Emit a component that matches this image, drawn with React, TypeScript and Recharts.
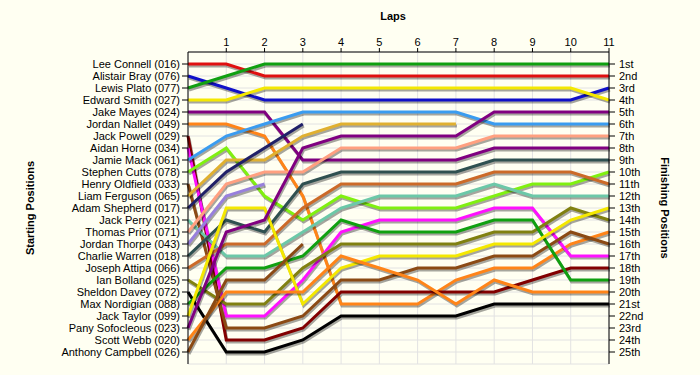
import React from 'react';
import { LineChart, Line, XAxis, YAxis, CartesianGrid } from 'recharts';

// laps 0 (grid) to 11
const LAPS = [0, 1, 2, 3, 4, 5, 6, 7, 8, 9, 10, 11];
const LAP_TICKS = [1, 2, 3, 4, 5, 6, 7, 8, 9, 10, 11];
const POSITION_TICKS = [1, 2, 3, 4, 5, 6, 7, 8, 9, 10, 11, 12, 13, 14, 15, 16, 17, 18, 19, 20, 21, 22, 23, 24, 25];

const STARTERS = [
  'Lee Connell (016)', 'Alistair Bray (076)', 'Lewis Plato (077)', 'Edward Smith (027)', 'Jake Mayes (024)',
  'Jordan Nallet (049)', 'Jack Powell (029)', 'Aidan Horne (034)', 'Jamie Mack (061)', 'Stephen Cutts (078)',
  'Henry Oldfield (033)', 'Liam Ferguson (065)', 'Adam Shepherd (017)', 'Jack Perry (021)', 'Thomas Prior (071)',
  'Jordan Thorpe (043)', 'Charlie Warren (018)', 'Joseph Attipa (066)', 'Ian Bolland (025)', 'Sheldon Davey (072)',
  'Max Nordigian (088)', 'Jack Taylor (099)', 'Pany Sofocleous (023)', 'Scott Webb (020)', 'Anthony Campbell (026)',
];

const FINISH_LABELS = [
  '1st', '2nd', '3rd', '4th', '5th', '6th', '7th', '8th', '9th', '10th', '11th', '12th', '13th',
  '14th', '15th', '16th', '17th', '18th', '19th', '20th', '21st', '22nd', '23rd', '24th', '25th',
];

// position after each lap, null = retired
const leeConnell = [1, 1, 2, 2, 2, 2, 2, 2, 2, 2, 2, 2];
const alistairBray = [2, 3, 4, 4, 4, 4, 4, 4, 4, 4, 4, 3];
const lewisPlato = [3, 2, 1, 1, 1, 1, 1, 1, 1, 1, 1, 1];
const edwardSmith = [4, 4, 3, 3, 3, 3, 3, 3, 3, 3, 3, 4];
const jakeMayes = [5, 5, 5, 9, 9, 9, 9, 9, 8, 8, 8, 8];
const jordanNallet = [6, 6, 7, 12, 21, 21, 21, 19, 18, 18, 16, 15];
const jackPowell = [7, 24, 24, 23, 20, 20, 20, 20, 20, 19, 18, 18];
const aidanHorne = [8, 22, 22, 19, 15, 14, 14, 14, 13, 13, 17, 17];
const jamieMack = [9, 7, 6, 5, 5, 5, 5, 5, 6, 6, 6, 6];
const stephenCutts = [10, 8, 12, 14, 12, 13, 13, 13, 12, 11, 11, 10];
const henryOldfield = [11, 23, 23, 22, 19, 19, 18, 18, 17, 17, 15, 16];
const liamFerguson = [12, 9, 9, 7, 6, 6, 6, 6, null, null, null, null];
const adamShepherd = [13, 10, 8, 6, null, null, null, null, null, null, null, null];
const jackPerry = [14, 17, 17, 15, 13, 12, 12, 12, 11, 12, 12, 12];
const thomasPrior = [15, 11, 10, 10, 8, 8, 8, 8, 7, 7, 7, 7];
const jordanThorpe = [16, 12, 11, null, null, null, null, null, null, null, null, null];
const charlieWarren = [17, 14, 15, 11, 10, 10, 10, 10, 9, 9, 9, 9];
const josephAttipa = [18, 16, 16, 13, 11, 11, 11, 11, 10, 10, 10, 11];
const ianBolland = [19, 21, 21, 18, 16, 16, 16, 16, 15, 15, 13, 14];
const sheldonDavey = [20, 25, 25, 24, 22, 22, 22, 22, 21, 21, 21, 21];
const maxNordigian = [21, 18, 18, 17, 14, 15, 15, 15, 14, 14, 19, 19];
const jackTaylor = [22, 13, 13, 21, 18, 17, 17, 17, 16, 16, 14, 13];
const panySofocleous = [23, 15, 14, 8, 7, 7, 7, 7, 5, 5, 5, 5];
const scottWebb = [24, 20, 20, 20, 17, 18, 19, 21, 19, 20, 20, 20];
const anthonyCampbell = [25, 19, 19, 16, null, null, null, null, null, null, null, null];

const POSITIONS = [
  leeConnell, alistairBray, lewisPlato, edwardSmith, jakeMayes, jordanNallet, jackPowell, aidanHorne,
  jamieMack, stephenCutts, henryOldfield, liamFerguson, adamShepherd, jackPerry, thomasPrior, jordanThorpe,
  charlieWarren, josephAttipa, ianBolland, sheldonDavey, maxNordigian, jackTaylor, panySofocleous, scottWebb,
  anthonyCampbell,
];

const COLORS = [
  '#e01010', '#1010c8', '#10a010', '#f4e800', '#800080', '#ff8418', '#820000', '#ff10ff',
  '#3a9cf0', '#80f010', '#8b4a14', '#e0b030', '#202068', '#6cc8a8', '#ffa080', '#9880dc',
  '#2f5050', '#cc6a28', '#808010', '#000000', '#10a010', '#f4e800', '#800080', '#ff8418',
  '#8b4a14',
];

const chartData = LAPS.map((lap, i) => {
  const row: any = { lap };
  POSITIONS.forEach((p, d) => { row['d' + d] = p[i]; });
  return row;
});

const FONT = 'Arial, "Liberation Sans", sans-serif';
const tickStyle = { fontSize: 11, fill: '#000', fontFamily: FONT };

// right axis: ordinal finishing labels
const FinishTick = (props: any) => {
  const { x, y, payload } = props;
  return (
    <text x={x + 2} y={y} dy={4} textAnchor="start" fontSize={11} fontFamily={FONT} fill="#000">
      {FINISH_LABELS[Number(payload.value) - 1]}
    </text>
  );
};

export default function App() {
  return (
    <div style={{ position: 'absolute', left: 0, top: 0, width: 700, height: 375, background: '#fffff2', fontFamily: FONT }}>
      <style>{`.recharts-line-curve { filter: drop-shadow(1px 2px 0.6px rgba(0,0,0,0.35)); }`}</style>
      <div style={{ position: 'absolute', left: 373, top: 10, width: 40, textAlign: 'center', fontSize: 11, fontWeight: 'bold' }}>Laps</div>
      <div style={{ position: 'absolute', left: 30, top: 208, fontSize: 11, fontWeight: 'bold', whiteSpace: 'nowrap', transform: 'translate(-50%, -50%) rotate(-90deg)' }}>Starting Positions</div>
      <div style={{ position: 'absolute', left: 665, top: 208, fontSize: 11, fontWeight: 'bold', whiteSpace: 'nowrap', transform: 'translate(-50%, -50%) rotate(90deg)' }}>Finishing Positions</div>
      <LineChart width={700} height={375} data={chartData} margin={{ top: 30, right: 0, bottom: 11, left: 0 }}>
        <CartesianGrid yAxisId="left" stroke="#e2e2e2" strokeWidth={1} />
        <XAxis
          dataKey="lap"
          type="number"
          domain={[0, 11]}
          ticks={LAP_TICKS}
          orientation="top"
          height={22}
          tickSize={4}
          tickMargin={2}
          stroke="#000"
          tick={tickStyle}
          interval={0}
        />
        <YAxis
          yAxisId="left"
          type="number"
          domain={[0, 26]}
          reversed
          ticks={POSITION_TICKS}
          interval={0}
          width={188}
          tickSize={6}
          tickMargin={2}
          stroke="#000"
          tick={tickStyle}
          tickFormatter={(p: number) => STARTERS[p - 1]}
        />
        <YAxis
          yAxisId="right"
          orientation="right"
          type="number"
          domain={[0, 26]}
          reversed
          ticks={POSITION_TICKS}
          interval={0}
          width={91}
          tickSize={6}
          stroke="#000"
          tick={<FinishTick />}
        />
        {STARTERS.map((name, d) => (
          <Line
            key={name}
            yAxisId={d === 0 ? 'right' : 'left'}
            dataKey={'d' + d}
            name={name}
            type="linear"
            stroke={COLORS[d]}
            strokeWidth={3}
            dot={false}
            connectNulls={false}
            isAnimationActive={false}
          />
        ))}
      </LineChart>
    </div>
  );
}
